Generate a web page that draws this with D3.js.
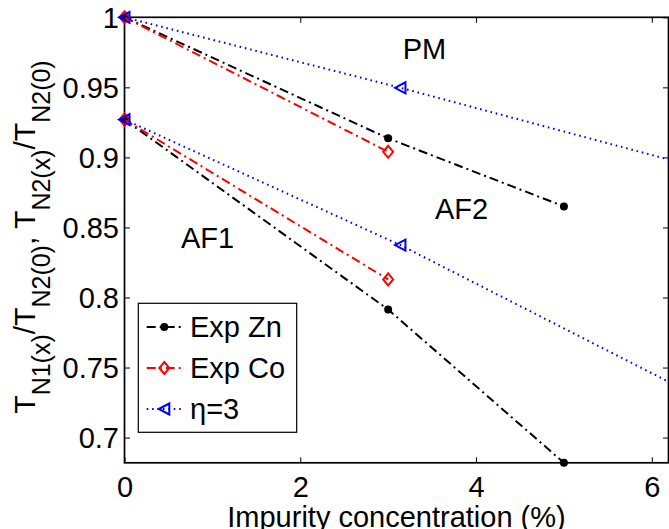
<!DOCTYPE html>
<html>
<head>
    <meta charset="utf-8">
    <script src="https://cdn.jsdelivr.net/npm/d3@7"></script>
    <style>
        body { margin: 0; background: #fff; }
        svg { display: block; font-family: "Liberation Sans", Arial, sans-serif; }
        .axis path { display: none; }
        .axis line { stroke: #000; stroke-width: 1; }
        .axis text { fill: #000; font-size: 29px; }
    </style>
</head>
<body>
    <svg width="669" height="529"></svg>
    <script>
        // concentration (%) and T_N / T_N2(0) values
        var znX = [0, 3, 5];
        var znN2 = [1, 0.9136, 0.865];
        var znN1 = [0.927, 0.7914, 0.682];

        var coX = [0, 3];
        var coN2 = [1, 0.904];
        var coN1 = [0.927, 0.8129];

        var etaX = [0, 3.14, 6.28];
        var etaN2 = [1, 0.9497, 0.897];
        var etaN1 = [0.927, 0.8374, 0.737];

        var legendNames = ["Exp Zn", "Exp Co", "\u03b7=3"];
        var xTicks = [0, 2, 4, 6];
        var yTicks = [0.7, 0.75, 0.8, 0.85, 0.9, 0.95, 1];

        var svg = d3.select("svg"),
            margin = {top: 17.3, right: 0.5, bottom: 66.2, left: 124.5},
            width = +svg.attr("width") - margin.left - margin.right,
            height = +svg.attr("height") - margin.top - margin.bottom,
            g = svg.append("g").attr("transform", "translate(" + margin.left + "," + margin.top + ")");

        var x = d3.scaleLinear().domain([0, 6.19]).range([0, width]);
        var y = d3.scaleLinear().domain([0.682, 1]).range([height, 0]);

        function zip(xs, ys) {
            return xs.map(function(v, i) { return {x: v, y: ys[i]}; });
        }

        var series = [
            {name: legendNames[0], color: "#000", dash: "9,4,2,4", marker: "dot", parts: [zip(znX, znN2), zip(znX, znN1)]},
            {name: legendNames[1], color: "#ff0000", dash: "9,4,2,4", marker: "diamond", parts: [zip(coX, coN2), zip(coX, coN1)]},
            {name: legendNames[2], color: "#0000ff", dash: "1.6,3.8", marker: "tri", parts: [zip(etaX, etaN2), zip(etaX, etaN1)]}
        ];

        svg.append("clipPath").attr("id", "plot-clip")
            .append("rect").attr("width", width).attr("height", height);

        var fmt = function(d) { return String(+d.toFixed(2)); };

        // axes: ticks pointing inward on all four sides
        g.append("g").attr("class", "axis")
            .attr("transform", "translate(0," + height + ")")
            .call(d3.axisBottom(x).tickValues(xTicks).tickSizeInner(-5.5).tickSizeOuter(0).tickPadding(13.6).tickFormat(fmt));
        g.append("g").attr("class", "axis")
            .call(d3.axisTop(x).tickValues(xTicks).tickSizeInner(-5.5).tickSizeOuter(0).tickFormat(""));
        g.append("g").attr("class", "axis")
            .call(d3.axisLeft(y).tickValues(yTicks).tickSizeInner(-5.5).tickSizeOuter(0).tickPadding(5.5).tickFormat(fmt))
            .selectAll("text").attr("dy", "0.35em");
        g.append("g").attr("class", "axis")
            .attr("transform", "translate(" + width + ",0)")
            .call(d3.axisRight(y).tickValues(yTicks).tickSizeInner(-5.5).tickSizeOuter(0).tickFormat(""));

        g.append("rect")
            .attr("width", width).attr("height", height)
            .attr("fill", "none").attr("stroke", "#000").attr("stroke-width", 1.7);

        var line = d3.line()
            .x(function(d) { return x(d.x); })
            .y(function(d) { return y(d.y); });

        function drawMarker(sel, type, color) {
            if (type == "dot") {
                sel.append("circle").attr("r", 4).attr("fill", color);
            } else if (type == "diamond") {
                sel.append("path").attr("d", "M0,-6L5,0L0,6L-5,0Z")
                    .attr("fill", "none").attr("stroke", color).attr("stroke-width", 2);
            } else {
                sel.append("path").attr("d", "M-5.5,0L5,-5.5L5,5.5Z")
                    .attr("fill", "none").attr("stroke", color).attr("stroke-width", 2);
            }
        }

        series.forEach(function(s) {
            s.parts.forEach(function(pts) {
                g.append("path")
                    .datum(pts)
                    .attr("clip-path", "url(#plot-clip)")
                    .attr("fill", "none")
                    .attr("stroke", s.color)
                    .attr("stroke-width", 2)
                    .attr("stroke-dasharray", s.dash)
                    .attr("d", line);
                g.selectAll(null).data(pts).enter().append("g")
                    .attr("transform", function(d) { return "translate(" + x(d.x) + "," + y(d.y) + ")"; })
                    .each(function() { drawMarker(d3.select(this), s.marker, s.color); });
            });
        });

        // region labels
        var labels = [["PM", 402.7, 59.3], ["AF1", 181, 247.7], ["AF2", 435, 219.3]];
        labels.forEach(function(l) {
            svg.append("text").attr("x", l[1]).attr("y", l[2]).style("font-size", "29px").text(l[0]);
        });

        // legend
        var leg = svg.append("g");
        leg.append("rect").attr("x", 138.3).attr("y", 303.3).attr("width", 158.4).attr("height", 129)
            .attr("fill", "#fff").attr("stroke", "#000").attr("stroke-width", 1.2);
        series.forEach(function(s, i) {
            var ly = 327 + i * 41;
            leg.append("line").attr("x1", 146.7).attr("x2", 183.3).attr("y1", ly).attr("y2", ly)
                .attr("stroke", s.color).attr("stroke-width", 2).attr("stroke-dasharray", s.dash);
            drawMarker(leg.append("g").attr("transform", "translate(164.3," + ly + ")"), s.marker, s.color);
            leg.append("text").attr("x", 190).attr("y", ly).attr("dy", "0.35em")
                .style("font-size", "29px").text(s.name);
        });

        // axis titles
        svg.append("text").attr("x", 396.5).attr("y", 527).attr("text-anchor", "middle")
            .style("font-size", "29px").text("Impurity concentration (%)");

        var ylab = svg.append("text")
            .attr("transform", "translate(35,237) rotate(-90)")
            .attr("text-anchor", "middle")
            .style("font-size", "30px");
        var yParts = [["T", 0], ["N1(x)", 1], ["/", 0], ["T", 0], ["N2(0)", 1], [", ", 0],
                      ["T", 0], ["N2(x)", 1], ["/", 0], ["T", 0], ["N2(0)", 1]];
        yParts.forEach(function(p, i) {
            var prevSub = i > 0 && yParts[i - 1][1] == 1;
            var dy = p[1] == 1 ? 15 : (prevSub ? -15 : 0);
            ylab.append("tspan").attr("dy", dy)
                .style("font-size", p[1] == 1 ? "25px" : "30px")
                .text(p[0]);
        });
    </script>
</body>
</html>
